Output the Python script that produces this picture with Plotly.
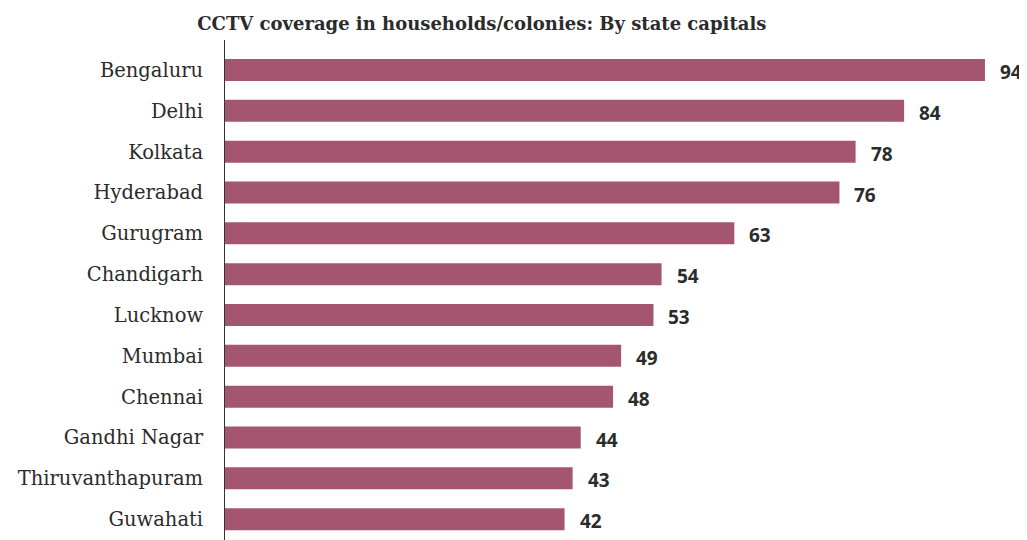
import plotly.graph_objects as go

cities = ["Bengaluru", "Delhi", "Kolkata", "Hyderabad", "Gurugram", "Chandigarh",
          "Lucknow", "Mumbai", "Chennai", "Gandhi Nagar", "Thiruvanthapuram", "Guwahati"]
values = [94, 84, 78, 76, 63, 54, 53, 49, 48, 44, 43, 42]

bar_color = "#a45671"
text_color = "#2b2b2b"

fig = go.Figure()
fig.add_trace(go.Bar(
    x=values, y=cities, orientation="h",
    marker=dict(color=bar_color, line=dict(width=0)),
    hoverinfo="x+y",
))

for c, v in zip(cities, values):
    fig.add_annotation(x=v, y=c, text=f"<b>{v}</b>", showarrow=False,
                       xanchor="left", yanchor="middle", xshift=13, yshift=-2,
                       font=dict(family="Noto Sans", size=19, color=text_color))

# page body has an 8px default margin, so the figure is sized/offset to compensate
fig.update_layout(
    width=1019, height=532,
    margin=dict(l=217, r=0, t=32, b=0, autoexpand=False),
    paper_bgcolor="white", plot_bgcolor="white",
    bargap=0.46,
    showlegend=False,
    title=dict(text="<b>CCTV coverage in households/colonies: By state capitals</b>",
               x=0.465, xanchor="center", y=0.982, yanchor="top",
               font=dict(family="DejaVu Serif", size=18, color=text_color)),
    xaxis=dict(range=[0, 99.2], showgrid=False, zeroline=False, showticklabels=False,
               showline=False, automargin=False),
    yaxis=dict(categoryorder="array", categoryarray=cities,
               range=[11.51, -0.735], showgrid=False, zeroline=False,
               showline=True, linecolor="#333333", linewidth=1,
               ticks="", ticklabelstandoff=17, automargin=False,
               tickfont=dict(family="DejaVu Serif", size=19.5, color=text_color)),
)

fig.write_html("out.html")
